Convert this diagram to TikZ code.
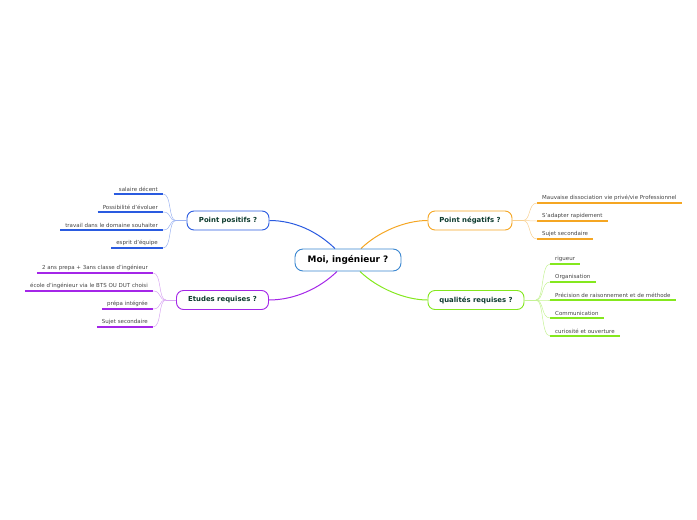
\documentclass[tikz,border=0pt]{standalone}
\usepackage{fontspec}
\setmainfont{DejaVu Sans}
\usetikzlibrary{backgrounds}
\begin{document}
\begin{tikzpicture}[x=1pt,y=-1pt,
  mainbox/.style={draw=#1,line width=0.9pt,rounded corners=7pt,fill=white,
    font=\fontsize{6.9}{8}\selectfont\bfseries,text=boxtext,inner sep=0pt},
  itemL/.style={anchor=south east,inner xsep=5pt,inner ysep=2.5pt,
    font=\fontsize{5.5}{6.5}\selectfont,text=itemtext},
  itemR/.style={anchor=south west,inner xsep=5pt,inner ysep=2.5pt,
    font=\fontsize{5.5}{6.5}\selectfont,text=itemtext},
  uline/.style={draw=#1,line width=1.5pt},
  branch/.style={draw=#1,line width=0.5pt},
  trunk/.style={draw=#1,line width=1pt}]
\definecolor{boxtext}{HTML}{0D3B2E}
\definecolor{itemtext}{HTML}{444444}
\definecolor{cblue}{HTML}{2A5BE0}
\definecolor{lblue}{HTML}{9DB4F2}
\definecolor{corange}{HTML}{F5A623}
\definecolor{lorange}{HTML}{F8D090}
\definecolor{cpurple}{HTML}{A426E8}
\definecolor{lpurple}{HTML}{D8A6F2}
\definecolor{cgreen}{HTML}{84E81E}
\definecolor{lgreen}{HTML}{C4F294}
\definecolor{ccenter}{HTML}{3A86D0}
\useasboundingbox (0,0) rectangle (697,520);

% central
\node[draw=ccenter,line width=0.9pt,rounded corners=8pt,fill=white,minimum width=106pt,minimum height=22pt,
  font=\fontsize{8.9}{10}\selectfont\bfseries,inner sep=0pt] (c) at (348,260) {Moi, ingénieur ?};

% main nodes
\node[mainbox=cblue,minimum width=82pt,minimum height=19pt] (pp) at (228,220.5) {Point positifs ?};
\node[mainbox=corange,minimum width=84pt,minimum height=19pt] (pn) at (470,220.5) {Point négatifs ?};
\node[mainbox=cpurple,minimum width=92pt,minimum height=19pt] (er) at (222.5,300) {Etudes requises ?};
\node[mainbox=cgreen,minimum width=96pt,minimum height=19pt] (qr) at (476,300) {qualités requises ?};

% central connectors
\begin{scope}[on background layer]
\draw[trunk=cblue] ([xshift=-13pt]c.north) .. controls (318,232) and (295,220.5) .. (pp.east);
\draw[trunk=corange] ([xshift=13pt]c.north) .. controls (378,232) and (405,220.5) .. (pn.west);
\draw[trunk=cpurple] ([xshift=-11pt]c.south) .. controls (320,288) and (295,300) .. (er.east);
\draw[trunk=cgreen] ([xshift=12pt]c.south) .. controls (377,288) and (405,300) .. (qr.west);
\end{scope}

% Point positifs items
\coordinate (fpp) at (176,220.5);
\draw[branch=lblue] (pp.west) -- (fpp);
\node[itemL] (pp1) at (163,194) {salaire décent};
\node[itemL] (pp2) at (163,212) {Possibilité d'évoluer};
\node[itemL] (pp3) at (163,230) {travail dans le domaine souhaiter};
\node[itemL] (pp4) at (163,248) {esprit d'équipe};
\foreach \n in {pp1,pp2,pp3,pp4}{
  \draw[uline=cblue] (\n.south west) -- (\n.south east);
  \draw[branch=lblue] (fpp) .. controls (168,220.5) and (172,0|-\n.south east) .. (\n.south east);
}

% Etudes requises items
\coordinate (fer) at (166,300);
\draw[branch=lpurple] (er.west) -- (fer);
\node[itemL] (er1) at (153,273) {2 ans prepa + 3ans classe d'ingénieur};
\node[itemL] (er2) at (153,291) {école d'ingénieur via le BTS OU DUT choisi};
\node[itemL] (er3) at (153,309) {prépa intégrée};
\node[itemL] (er4) at (153,327) {Sujet secondaire};
\foreach \n in {er1,er2,er3,er4}{
  \draw[uline=cpurple] (\n.south west) -- (\n.south east);
  \draw[branch=lpurple] (fer) .. controls (158,300) and (162,0|-\n.south east) .. (\n.south east);
}

% Point negatifs items
\coordinate (fpn) at (523,220.5);
\draw[branch=lorange] (pn.east) -- (fpn);
\node[itemR] (pn1) at (537,203) {Mauvaise dissociation vie privé/vie Professionnel};
\node[itemR] (pn2) at (537,221) {S'adapter rapidement};
\node[itemR] (pn3) at (537,239) {Sujet secondaire};
\foreach \n in {pn1,pn2,pn3}{
  \draw[uline=corange] (\n.south west) -- (\n.south east);
  \draw[branch=lorange] (fpn) .. controls (531,220.5) and (528,0|-\n.south west) .. (\n.south west);
}

% qualites requises items
\coordinate (fqr) at (536,300);
\draw[branch=lgreen] (qr.east) -- (fqr);
\node[itemR] (q1) at (550,264) {rigueur};
\node[itemR] (q2) at (550,282) {Organisation};
\node[itemR] (q3) at (550,300) {Précision de raisonnement et de méthode};
\node[itemR] (q4) at (550,318) {Communication};
\node[itemR] (q5) at (550,336) {curiosité et ouverture};
\foreach \n in {q1,q2,q3,q4,q5}{
  \draw[uline=cgreen] (\n.south west) -- (\n.south east);
  \draw[branch=lgreen] (fqr) .. controls (544,300) and (541,0|-\n.south west) .. (\n.south west);
}
\end{tikzpicture}
\end{document}
